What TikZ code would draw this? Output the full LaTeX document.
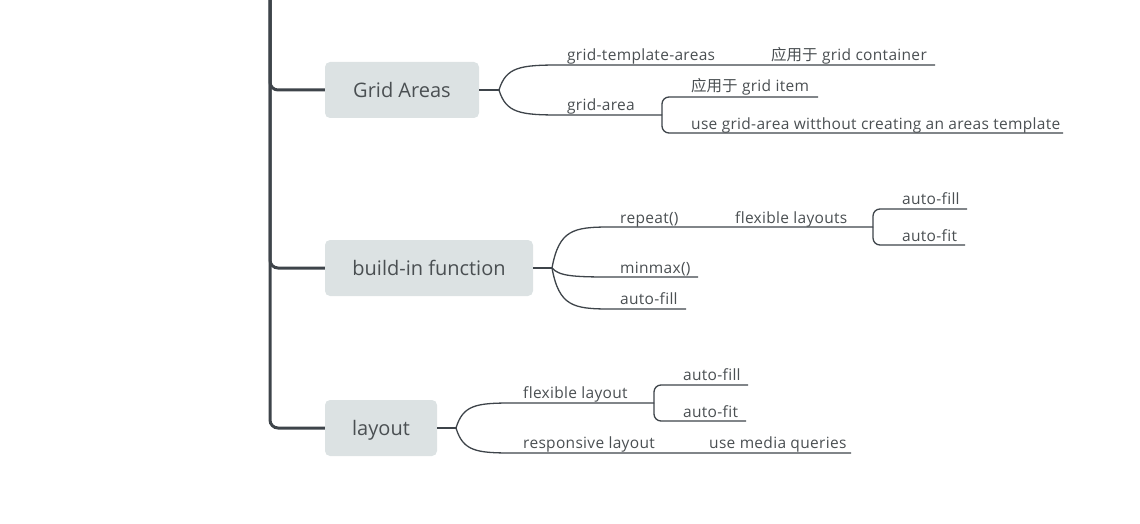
\documentclass[tikz,border=0pt]{standalone}
\usepackage{fontspec}
\setmainfont{Open Sans}[Ligatures=NoCommon]
\newfontfamily\lblfont{Open Sans}[Ligatures=NoCommon, LetterSpace=2]
\newfontfamily\cjk{Noto Sans CJK SC}
\definecolor{boxgray}{HTML}{DCE2E3}
\definecolor{txt}{HTML}{4A4F52}
\definecolor{linec}{HTML}{3E444A}
\begin{document}
\begin{tikzpicture}[x=1pt,y=-1pt,
  main/.style={fill=boxgray, rounded corners=5pt, text=txt, font=\fontsize{20}{24}\selectfont, inner sep=0pt, minimum height=56pt, text height=15.5pt, text depth=0pt},
  lbl/.style={text=txt, font=\lblfont\fontsize{15.5}{18}\selectfont, inner sep=0pt, anchor=base west},
  trunk/.style={draw=linec, line width=3pt, rounded corners=8pt},
  br/.style={draw=linec, line width=1.3pt},
  brk/.style={draw=linec, line width=1.3pt, rounded corners=7pt},
]
\useasboundingbox (0,0) rectangle (1140,524);

% main topics
\node[main, minimum width=154pt] (ga) at (402,90) {Grid Areas};
\node[main, minimum width=208pt] (bf) at (429,268) {build-in function};
\node[main, minimum width=112pt] (lay) at (381,428) {layout};

% trunk
\coordinate (top) at (270,0);
\draw[trunk] (top) |- (ga.west);
\draw[trunk] (top) |- (bf.west);
\draw[trunk] (top) |- (lay.west);

% ---------- Grid Areas ----------
\coordinate (f1) at (499,90);
\coordinate (gta) at (560,65);
\coordinate (gtaE) at (935,65);
\coordinate (gar) at (560,115);
\coordinate (garE) at (662,115);
\coordinate (giE) at (818,97);
\coordinate (ugE) at (1063,133);
\draw[br] (ga.east) -- (f1);
\draw[br] (f1) .. controls (506,67) and (520,65) .. (gta) -- (gtaE);
\draw[br] (f1) .. controls (506,113) and (520,115) .. (gar) -- (garE);
\draw[brk] (garE) |- (giE);
\draw[brk] (garE) |- (ugE);
\node[lbl] (t1) at (567,61) {grid-template-areas};
\node[lbl] (t2) at (771,61) {{\cjk 应用于} grid container};
\node[lbl] (t3) at (567,110.5) {grid-area};
\node[lbl] (t4) at (691,92) {{\cjk 应用于} grid item};
\node[lbl] (t5) at (691,129) {use grid-area witthout creating an areas template};

% ---------- build-in function ----------
\coordinate (f2) at (552,268);
\coordinate (rp) at (610,227);
\coordinate (rpE) at (873,227);
\coordinate (af1E) at (967,209);
\coordinate (at1E) at (965,245);
\coordinate (mm) at (610,277);
\coordinate (mmE) at (698,277);
\coordinate (af2) at (610,309);
\coordinate (af2E) at (686,309);
\draw[br] (bf.east) -- (f2);
\draw[br] (f2) .. controls (559,230) and (573,227) .. (rp) -- (rpE);
\draw[br] (f2) .. controls (559,276) and (573,277) .. (mm) -- (mmE);
\draw[br] (f2) .. controls (559,306) and (573,309) .. (af2) -- (af2E);
\draw[brk] (rpE) |- (af1E);
\draw[brk] (rpE) |- (at1E);
\node[lbl] (b1) at (620,223) {repeat()};
\node[lbl] (b2) at (735,223) {flexible layouts};
\node[lbl] (b3) at (902,204) {auto-fill};
\node[lbl] (b4) at (902,241) {auto-fit};
\node[lbl] (b5) at (620,273) {minmax()};
\node[lbl] (b6) at (620,304) {auto-fill};

% ---------- layout ----------
\coordinate (f3) at (456,428);
\coordinate (fl) at (512,403);
\coordinate (flE) at (654,403);
\coordinate (af3E) at (748,385);
\coordinate (at3E) at (746,421);
\coordinate (rl) at (512,453);
\coordinate (rlE) at (851,453);
\draw[br] (lay.east) -- (f3);
\draw[br] (f3) .. controls (463,405) and (476,403) .. (fl) -- (flE);
\draw[br] (f3) .. controls (463,451) and (476,453) .. (rl) -- (rlE);
\draw[brk] (flE) |- (af3E);
\draw[brk] (flE) |- (at3E);
\node[lbl] (l1) at (523,398) {flexible layout};
\node[lbl] (l2) at (683,380) {auto-fill};
\node[lbl] (l3) at (683,417) {auto-fit};
\node[lbl] (l4) at (523,448) {responsive layout};
\node[lbl] (l5) at (709,448) {use media queries};
\end{tikzpicture}
\end{document}
